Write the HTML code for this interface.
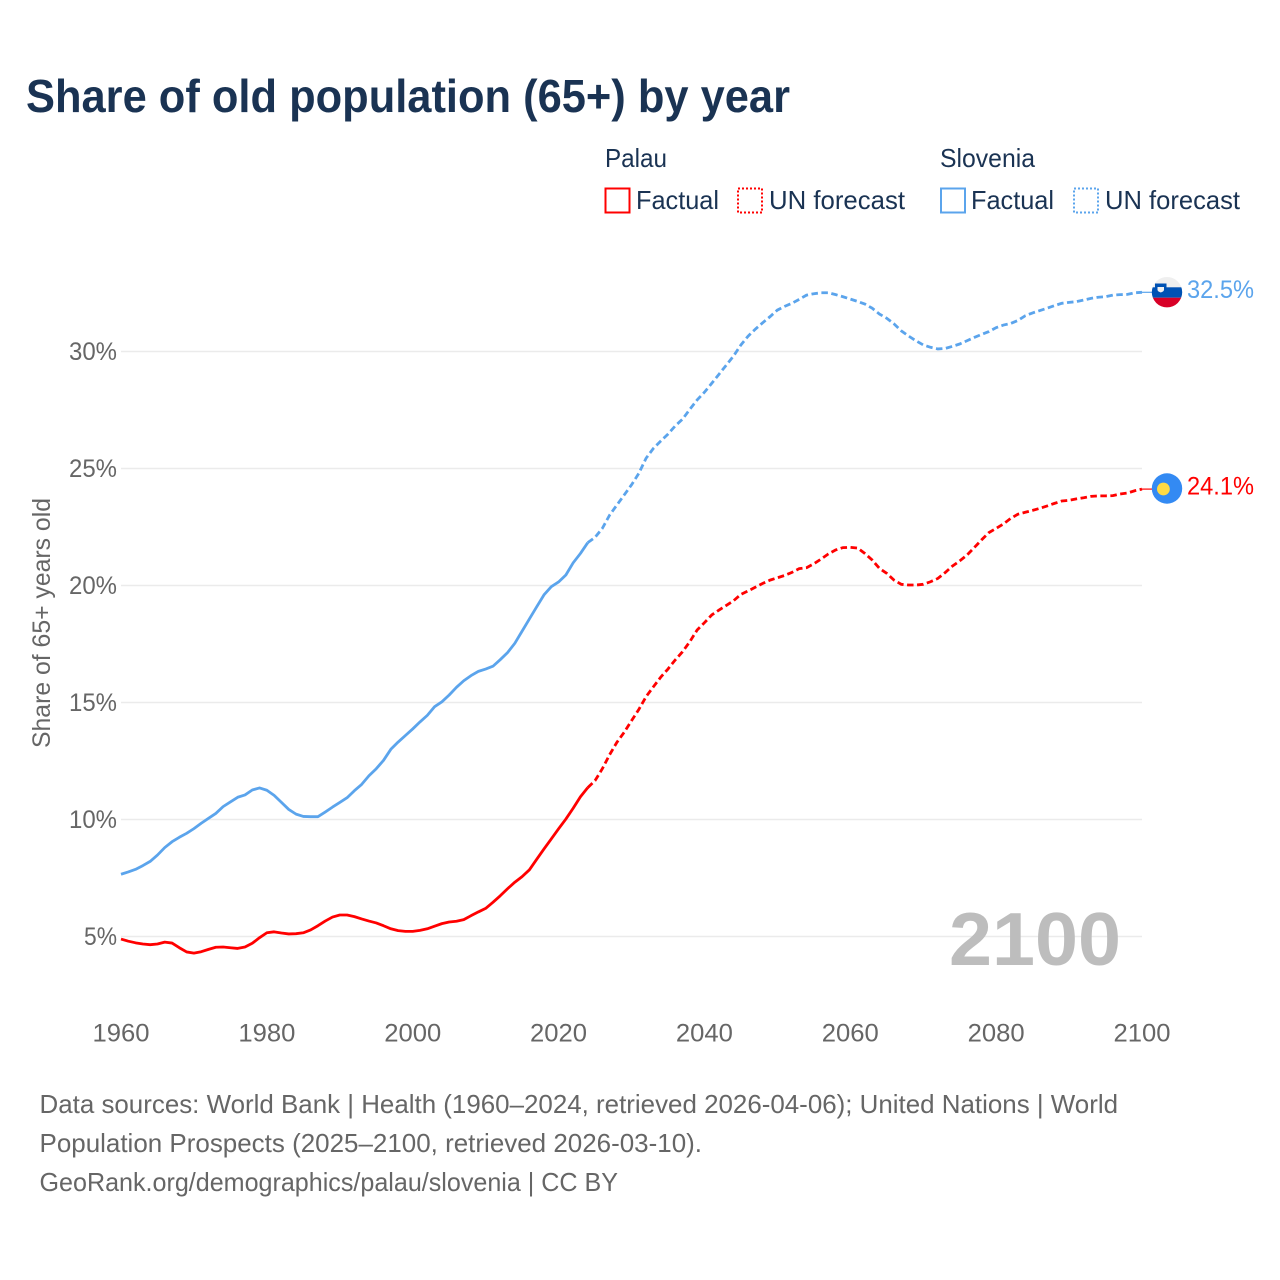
<!DOCTYPE html>
<html lang="en">
<head>
<meta charset="utf-8">
<title>Share of old population (65+) by year</title>
<style>
html,body{margin:0;padding:0;background:#fff;}
svg{display:block;font-family:"Liberation Sans",sans-serif;}
</style>
</head>
<body>
<svg id="chart" xmlns="http://www.w3.org/2000/svg" width="1280" height="1280" viewBox="0 0 1280 1280">
  <rect x="0" y="0" width="1280" height="1280" fill="#ffffff"/>
  <text x="26" y="112" font-size="46" font-weight="700" fill="#1a3353" textLength="764" lengthAdjust="spacingAndGlyphs">Share of old population (65+) by year</text>

  <g font-size="26" fill="#1a3353">
    <text x="605" y="167" textLength="62" lengthAdjust="spacingAndGlyphs">Palau</text>
    <text x="940" y="167" textLength="95" lengthAdjust="spacingAndGlyphs">Slovenia</text>
    <rect x="605.5" y="188.5" width="24" height="24" fill="none" stroke="#ff0000" stroke-width="2"/>
    <text x="636" y="209" textLength="83" lengthAdjust="spacingAndGlyphs">Factual</text>
    <rect x="738" y="188.5" width="24" height="24" fill="none" stroke="#ff0000" stroke-width="2" stroke-dasharray="2 2"/>
    <text x="769" y="209" textLength="136" lengthAdjust="spacingAndGlyphs">UN forecast</text>
    <rect x="941" y="188.5" width="24" height="24" fill="none" stroke="#5ba4ec" stroke-width="2"/>
    <text x="971" y="209" textLength="83" lengthAdjust="spacingAndGlyphs">Factual</text>
    <rect x="1074" y="188.5" width="24" height="24" fill="none" stroke="#5ba4ec" stroke-width="2" stroke-dasharray="2 2"/>
    <text x="1105" y="209" textLength="135" lengthAdjust="spacingAndGlyphs">UN forecast</text>
  </g>

  <text transform="translate(50 623) rotate(-90)" text-anchor="middle" font-size="25" fill="#666666" textLength="250" lengthAdjust="spacingAndGlyphs">Share of 65+ years old</text>

  <g id="grid"></g>
  <g id="yTicks" font-size="25" fill="#666666"></g>
  <g id="xTicks" font-size="25" fill="#666666"></g>

  <text x="949" y="965" font-size="75" font-weight="700" fill="#bdbdbd" textLength="172" lengthAdjust="spacingAndGlyphs">2100</text>

  <g id="series"></g>

  <g>
    <clipPath id="slClip"><circle cx="1167" cy="292.2" r="15.2"/></clipPath>
    <g clip-path="url(#slClip)">
      <rect x="1150" y="276" width="34" height="12" fill="#efefef"/>
      <rect x="1150" y="287.3" width="34" height="10.4" fill="#0052b4"/>
      <rect x="1150" y="297.7" width="34" height="11" fill="#d80027"/>
      <path d="M1155 283.5h11.5v6.5c0 3-3 4.2-5.7 5.2-2.8-1-5.8-2.2-5.8-5.2z" fill="#0052b4"/>
      <path d="M1157.5 287h6.5v2.6c0 1.6-1.7 2.3-3.2 2.9-1.6-.6-3.3-1.3-3.3-2.9z" fill="#f0f0f0"/>
    </g>
  </g>
  <g>
    <circle cx="1167" cy="488.5" r="15.2" fill="#338af3"/>
    <circle cx="1163.4" cy="489" r="6.4" fill="#ffda44"/>
  </g>

  <g id="endLabels" font-size="25"></g>

  <g font-size="26" fill="#666666">
    <text x="39.5" y="1113" textLength="1078.5" lengthAdjust="spacingAndGlyphs">Data sources: World Bank | Health (1960–2024, retrieved 2026-04-06); United Nations | World</text>
    <text x="39.5" y="1152" textLength="662.5" lengthAdjust="spacingAndGlyphs">Population Prospects (2025–2100, retrieved 2026-03-10).</text>
    <text x="39.5" y="1191" textLength="578.5" lengthAdjust="spacingAndGlyphs">GeoRank.org/demographics/palau/slovenia | CC BY</text>
  </g>
</svg>
<script>
const firstYear = 1960;
const lastFactualYear = 2024;
const xTickYears = [1960, 1980, 2000, 2020, 2040, 2060, 2080, 2100];
const yTickValues = [5, 10, 15, 20, 25, 30];
const palauValues = [
  4.89,4.8,4.73,4.68,4.65,4.68,4.76,4.72,4.52,4.34,
  4.29,4.35,4.45,4.54,4.55,4.52,4.49,4.55,4.71,4.95,
  5.16,5.2,5.15,5.11,5.12,5.16,5.28,5.46,5.66,5.83,
  5.92,5.92,5.85,5.75,5.66,5.58,5.46,5.33,5.25,5.22,
  5.22,5.26,5.33,5.44,5.55,5.62,5.65,5.72,5.89,6.05,
  6.2,6.46,6.74,7.04,7.32,7.56,7.85,8.3,8.74,9.17,
  9.6,10.02,10.48,10.97,11.36,11.66,12.17,12.77,13.3,13.73,
  14.22,14.7,15.25,15.67,16.08,16.43,16.82,17.17,17.6,18.1,
  18.41,18.74,18.95,19.15,19.35,19.62,19.77,19.93,20.09,20.23,
  20.33,20.43,20.56,20.72,20.76,20.93,21.13,21.35,21.52,21.62,
  21.63,21.6,21.37,21.09,20.73,20.52,20.23,20.05,20.02,20.02,
  20.05,20.16,20.3,20.55,20.83,21.05,21.3,21.62,21.95,22.26,
  22.44,22.63,22.87,23.05,23.13,23.21,23.3,23.4,23.51,23.61,
  23.64,23.7,23.75,23.81,23.83,23.83,23.84,23.91,23.95,24.05,
  24.12
];
const sloveniaValues = [
  7.66,7.76,7.87,8.03,8.21,8.48,8.8,9.05,9.24,9.41,
  9.61,9.84,10.05,10.26,10.55,10.75,10.95,11.05,11.26,11.35,
  11.25,11.03,10.73,10.43,10.23,10.13,10.12,10.12,10.32,10.53,
  10.73,10.93,11.23,11.5,11.87,12.17,12.53,13.0,13.31,13.59,
  13.87,14.17,14.45,14.82,15.03,15.32,15.65,15.93,16.15,16.33,
  16.43,16.55,16.83,17.13,17.53,18.05,18.57,19.09,19.6,19.95,
  20.15,20.45,20.97,21.37,21.83,22.06,22.44,23.01,23.44,23.87,
  24.3,24.79,25.44,25.86,26.17,26.47,26.82,27.11,27.53,27.93,
  28.26,28.64,29.03,29.42,29.81,30.28,30.66,30.96,31.23,31.49,
  31.77,31.93,32.06,32.23,32.41,32.47,32.51,32.51,32.43,32.34,
  32.24,32.14,32.03,31.85,31.6,31.42,31.18,30.88,30.66,30.46,
  30.28,30.18,30.11,30.13,30.22,30.32,30.46,30.6,30.73,30.85,
  31.02,31.13,31.2,31.33,31.53,31.65,31.75,31.85,31.96,32.06,
  32.1,32.13,32.2,32.27,32.32,32.34,32.41,32.43,32.44,32.51,
  32.53
];

const SVG_NS = 'http://www.w3.org/2000/svg';
const xScale = function (year) { return 121 + (year - 1960) * (1021 / 140); };
const yScale = function (value) { return 936.5 - (value - 5) * 23.4; };

function make(tag, parentId) {
  const el = document.createElementNS(SVG_NS, tag);
  document.getElementById(parentId).appendChild(el);
  return el;
}

yTickValues.forEach(function (v) {
  const line = make('line', 'grid');
  
  
  line.setAttribute('x1', 121);
  line.setAttribute('x2', 1142);
  line.setAttribute('y1', yScale(v));
  line.setAttribute('y2', yScale(v));
  line.setAttribute('stroke', '#ebebeb');
  line.setAttribute('stroke-width', '1.5');

  const label = make('text', 'yTicks');
  
  
  label.setAttribute('x', v < 10 ? 84 : 69);
  label.setAttribute('y', yScale(v) + 8.5);
  label.setAttribute('textLength', v < 10 ? 33 : 48);
  label.setAttribute('lengthAdjust', 'spacingAndGlyphs');
  label.textContent = v + '%';
});

xTickYears.forEach(function (year) {
  const label = make('text', 'xTicks');
  
  
  label.setAttribute('x', xScale(year) - 28.5);
  label.setAttribute('y', 1041.5);
  label.setAttribute('textLength', 57);
  label.setAttribute('lengthAdjust', 'spacingAndGlyphs');
  label.textContent = year;
});

function toPath(values, startIdx, endIdx) {
  const parts = [];
  for (let i = startIdx; i <= endIdx; i++) {
    parts.push((i === startIdx ? 'M' : 'L') + xScale(firstYear + i).toFixed(2) + ' ' + yScale(values[i]).toFixed(2));
  }
  return parts.join(' ');
}

function drawSeries(values, color, key) {
  const split = lastFactualYear - firstYear;
  const last = values.length - 1;

  const solid = make('path', 'series');
  
  
  solid.setAttribute('d', toPath(values, 0, split));
  solid.setAttribute('fill', 'none');
  solid.setAttribute('stroke', color);
  solid.setAttribute('stroke-width', '2.8');
  solid.setAttribute('stroke-linejoin', 'round');

  const dashed = make('path', 'series');
  
  
  dashed.setAttribute('d', toPath(values, split, last));
  dashed.setAttribute('fill', 'none');
  dashed.setAttribute('stroke', color);
  dashed.setAttribute('stroke-width', '2.8');
  dashed.setAttribute('stroke-dasharray', '6.5 3.5');

  const connector = make('line', 'series');
  
  
  connector.setAttribute('x1', xScale(firstYear + last));
  connector.setAttribute('x2', 1153);
  connector.setAttribute('y1', yScale(values[last]));
  connector.setAttribute('y2', yScale(values[last]));
  connector.setAttribute('stroke', color);
  connector.setAttribute('stroke-width', '1.2');

  const label = make('text', 'endLabels');
  
  
  label.setAttribute('x', 1187);
  label.setAttribute('y', yScale(values[last]) + 5.5);
  label.setAttribute('fill', color);
  label.setAttribute('textLength', 67);
  label.setAttribute('lengthAdjust', 'spacingAndGlyphs');
  label.textContent = values[last].toFixed(1) + '%';
}

drawSeries(sloveniaValues, '#5ba4ec', 'slovenia');
drawSeries(palauValues, '#ff0000', 'palau');
</script>
</body>
</html>
